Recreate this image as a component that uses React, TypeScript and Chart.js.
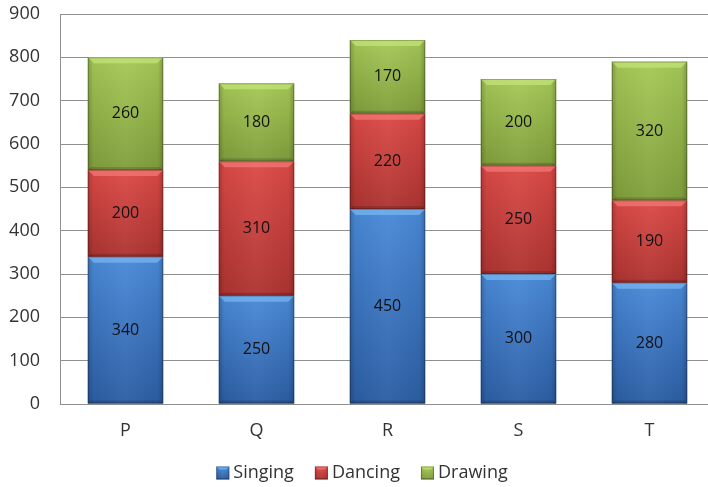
import { useEffect, useRef } from 'react';
import { Chart, registerables } from 'chart.js';

Chart.register(...registerables);

const categories = ['P', 'Q', 'R', 'S', 'T'];
const seriesNames = ['Singing', 'Dancing', 'Drawing'];
const singing = [340, 250, 450, 300, 280];
const dancing = [200, 310, 220, 250, 190];
const drawing = [260, 180, 170, 200, 320];
const yMin = 0;
const yMax = 900;
const yStep = 100;

const FONT = '"Open Sans", "Noto Sans", sans-serif';
const TEXT = '#333333';
const GRID = '#8f8f8f';

const palettes = [
  { top: '#4a8ad8', mid: '#3c78c6', bottom: '#2c5ea4', bevel: '#7ab8f4' },
  { top: '#dc4a47', mid: '#c93f3c', bottom: '#ad3431', bevel: '#f57a77' },
  { top: '#a6c957', mid: '#98ba4b', bottom: '#819f3c', bevel: '#c5e57a' },
];

function paintBlock(ctx: CanvasRenderingContext2D, l: number, t: number, r: number, b: number, p: any, bevelSize: number) {
  const w = r - l;
  const h = b - t;
  if (w <= 0 || h <= 0) return;
  ctx.save();
  const g = ctx.createLinearGradient(0, t, 0, b);
  g.addColorStop(0, p.top);
  g.addColorStop(1, p.bottom);
  ctx.fillStyle = g;
  ctx.fillRect(l, t, w, h);
  const hg = ctx.createLinearGradient(l, 0, r, 0);
  hg.addColorStop(0, 'rgba(0,0,0,0.22)');
  hg.addColorStop(0.07, 'rgba(0,0,0,0.04)');
  hg.addColorStop(0.5, 'rgba(255,255,255,0.04)');
  hg.addColorStop(0.93, 'rgba(0,0,0,0.04)');
  hg.addColorStop(1, 'rgba(0,0,0,0.22)');
  ctx.fillStyle = hg;
  ctx.fillRect(l, t, w, h);
  const bv = Math.min(bevelSize, h / 3);
  ctx.beginPath();
  ctx.moveTo(l, t);
  ctx.lineTo(r, t);
  ctx.lineTo(r - bv, t + bv);
  ctx.lineTo(l + bv, t + bv);
  ctx.closePath();
  ctx.globalAlpha = 0.7;
  ctx.fillStyle = p.bevel;
  ctx.fill();
  ctx.globalAlpha = 1;
  const bb = Math.min(bevelSize * 0.5, h / 4);
  ctx.beginPath();
  ctx.moveTo(l, b);
  ctx.lineTo(r, b);
  ctx.lineTo(r - bb, b - bb);
  ctx.lineTo(l + bb, b - bb);
  ctx.closePath();
  ctx.fillStyle = 'rgba(0,0,0,0.15)';
  ctx.fill();
  ctx.strokeStyle = 'rgba(0,0,0,0.22)';
  ctx.lineWidth = 1;
  ctx.strokeRect(l + 0.5, t + 0.5, w - 1, h - 1);
  ctx.restore();
}

const barStylePlugin = {
  id: 'barStyle',
  afterDatasetsDraw(chart: any) {
    const ctx = chart.ctx as CanvasRenderingContext2D;
    const labels: any[] = [];
    chart.data.datasets.forEach((ds: any, di: number) => {
      const meta = chart.getDatasetMeta(di);
      meta.data.forEach((el: any, i: number) => {
        const pr = el.getProps(['x', 'y', 'base', 'width'], true);
        const l = pr.x - pr.width / 2;
        const r = pr.x + pr.width / 2;
        const t = Math.min(pr.y, pr.base);
        const b = Math.max(pr.y, pr.base);
        paintBlock(ctx, l, t, r, b, palettes[di], 6);
        labels.push({ x: pr.x, y: (t + b) / 2, text: String(ds.data[i]) });
      });
    });
    ctx.save();
    ctx.font = `16px ${FONT}`;
    ctx.fillStyle = '#111111';
    ctx.textAlign = 'center';
    ctx.textBaseline = 'middle';
    labels.forEach((lb) => ctx.fillText(lb.text, lb.x, lb.y));
    ctx.restore();
  },
  afterDraw(chart: any) {
    const ctx = chart.ctx as CanvasRenderingContext2D;
    ctx.save();
    ctx.font = `18px ${FONT}`;
    const box = 13;
    const gap = 4;
    const spacing = 21;
    const names = chart.data.datasets.map((d: any) => d.label as string);
    const widths = names.map((n: string) => ctx.measureText(n).width);
    const total = widths.reduce((a: number, w: number) => a + w + box + gap, 0) + spacing * (names.length - 1);
    let x = 362 - total / 2;
    const cy = 473;
    names.forEach((n: string, i: number) => {
      paintBlock(ctx, x, cy - box / 2, x + box, cy + box / 2, palettes[i], 3);
      ctx.fillStyle = TEXT;
      ctx.textAlign = 'left';
      ctx.textBaseline = 'middle';
      ctx.fillText(n, x + box + gap, cy);
      x += box + gap + widths[i] + spacing;
    });
    ctx.restore();
  },
};

export default function App() {
  const ref = useRef<HTMLCanvasElement>(null);
  useEffect(() => {
    if (!ref.current) return;
    const seriesData = [singing, dancing, drawing];
    const chart = new Chart(ref.current, {
      type: 'bar',
      data: {
        labels: categories,
        datasets: seriesNames.map((name, i) => ({
          label: name,
          data: seriesData[i],
          backgroundColor: palettes[i].mid,
          borderWidth: 0,
          categoryPercentage: 1,
          barPercentage: 0.575,
        })),
      },
      options: {
        responsive: false,
        animation: false,
        layout: { padding: { top: 0, right: 0, left: 0, bottom: 0 } },
        plugins: { legend: { display: false }, tooltip: { enabled: false } },
        scales: {
          x: {
            stacked: true,
            grid: { display: false, drawTicks: false },
            border: { color: GRID },
            ticks: { padding: 16, color: TEXT, font: { family: FONT, size: 18 } },
            afterFit(s: any) {
              s.height = 83;
            },
          },
          y: {
            stacked: true,
            min: yMin,
            max: yMax,
            ticks: { stepSize: yStep, padding: 20, color: TEXT, font: { family: FONT, size: 18 } },
            grid: { color: GRID, drawTicks: false },
            border: { color: GRID },
            afterFit(s: any) {
              s.width = 60;
              s.paddingTop = 14;
              s.paddingBottom = 0;
            },
          },
        },
      },
      plugins: [barStylePlugin],
    } as any);
    return () => chart.destroy();
  }, []);
  return (
    <div style={{ position: 'fixed', left: 0, top: 0, width: 715, height: 487, background: '#fff' }}>
      <canvas ref={ref} width={715} height={487} style={{ width: 715, height: 487 }} />
    </div>
  );
}
